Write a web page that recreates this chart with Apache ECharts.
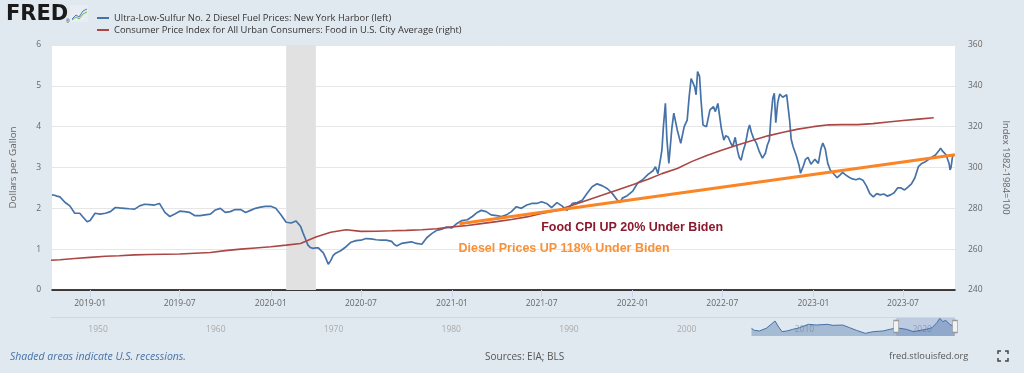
<!DOCTYPE html>
<html><head><meta charset="utf-8">
<script src="https://cdn.jsdelivr.net/npm/echarts@6/dist/echarts.min.js"></script>
<style>html,body{margin:0;padding:0;background:#e1e9f0;}#c{width:1024px;height:373px;}</style>
</head><body><div id="c"></div><script>
// ---------- DATA ----------
const dieselName = 'Ultra-Low-Sulfur No. 2 Diesel Fuel Prices: New York Harbor (left)';
const cpiName = 'Consumer Price Index for All Urban Consumers: Food in U.S. City Average (right)';

const dieselDates = [
'2018-10-16','2018-10-21','2018-10-26','2018-11-01','2018-11-11','2018-11-21','2018-12-01','2018-12-11','2018-12-21','2018-12-26',
'2019-01-01','2019-01-11','2019-01-21','2019-02-01','2019-02-11','2019-02-21','2019-03-01','2019-03-11','2019-03-21','2019-04-01',
'2019-04-11','2019-04-21','2019-05-01','2019-05-11','2019-05-21','2019-06-01','2019-06-11','2019-06-21','2019-07-01','2019-07-11',
'2019-07-21','2019-08-01','2019-08-11','2019-08-21','2019-09-01','2019-09-11','2019-09-21','2019-10-01','2019-10-11','2019-10-21',
'2019-11-01','2019-11-11','2019-11-21','2019-12-01','2019-12-11','2019-12-21','2020-01-01','2020-01-11','2020-01-21','2020-02-01',
'2020-02-11','2020-02-21','2020-03-01','2020-03-06','2020-03-11','2020-03-16','2020-03-21','2020-03-26','2020-04-01','2020-04-06',
'2020-04-11','2020-04-16','2020-04-21','2020-04-26','2020-05-01','2020-05-06','2020-05-11','2020-05-21','2020-06-01','2020-06-11',
'2020-06-21','2020-07-01','2020-07-11','2020-07-21','2020-08-01','2020-08-11','2020-08-21','2020-09-01','2020-09-06','2020-09-11',
'2020-09-21','2020-10-01','2020-10-11','2020-10-21','2020-11-01','2020-11-11','2020-11-21','2020-12-01','2020-12-11','2020-12-21',
'2021-01-01','2021-01-11','2021-01-21','2021-02-01','2021-02-11','2021-02-21','2021-03-01','2021-03-11','2021-03-21','2021-04-01',
'2021-04-11','2021-04-21','2021-05-01','2021-05-11','2021-05-21','2021-06-01','2021-06-11','2021-06-21','2021-07-01','2021-07-11',
'2021-07-21','2021-08-01','2021-08-11','2021-08-21','2021-09-01','2021-09-11','2021-09-21','2021-10-01','2021-10-11','2021-10-21',
'2021-11-01','2021-11-11','2021-11-21','2021-12-01','2021-12-06','2021-12-11','2021-12-21','2022-01-01','2022-01-11','2022-01-21',
'2022-02-01','2022-02-11','2022-02-16','2022-02-21','2022-02-26','2022-03-01','2022-03-04','2022-03-08','2022-03-11','2022-03-15',
'2022-03-21','2022-03-25','2022-04-01','2022-04-08','2022-04-15','2022-04-21','2022-04-25','2022-04-29','2022-05-06','2022-05-09',
'2022-05-12','2022-05-16','2022-05-19','2022-05-23','2022-05-30','2022-06-06','2022-06-13','2022-06-17','2022-06-22','2022-06-29',
'2022-07-04','2022-07-08','2022-07-13','2022-07-18','2022-07-22','2022-07-27','2022-08-01','2022-08-04','2022-08-08','2022-08-12',
'2022-08-17','2022-08-22','2022-08-25','2022-08-29','2022-09-02','2022-09-08','2022-09-14','2022-09-20','2022-09-26','2022-09-30',
'2022-10-04','2022-10-07','2022-10-11','2022-10-14','2022-10-17','2022-10-21','2022-10-25','2022-10-31','2022-11-04','2022-11-08',
'2022-11-11','2022-11-14','2022-11-17','2022-11-21','2022-11-28','2022-12-03','2022-12-06','2022-12-12','2022-12-16','2022-12-21',
'2022-12-27','2023-01-04','2023-01-11','2023-01-16','2023-01-20','2023-01-25','2023-01-30','2023-02-04','2023-02-10','2023-02-18',
'2023-02-24','2023-03-01','2023-03-07','2023-03-14','2023-03-21','2023-03-28','2023-04-04','2023-04-11','2023-04-18','2023-04-25',
'2023-05-02','2023-05-09','2023-05-16','2023-05-23','2023-05-30','2023-06-06','2023-06-13','2023-06-20','2023-06-27','2023-07-04',
'2023-07-11','2023-07-18','2023-07-25','2023-08-01','2023-08-08','2023-08-15','2023-08-22','2023-08-29','2023-09-05','2023-09-12',
'2023-09-15','2023-09-19','2023-09-26','2023-09-29','2023-10-02','2023-10-04','2023-10-06','2023-10-09','2023-10-12'
];
const dieselValues = [
2.33,2.32,2.30,2.28,2.15,2.06,1.88,1.88,1.74,1.67,
1.70,1.88,1.86,1.88,1.92,2.02,2.01,2.00,1.99,1.98,
2.06,2.10,2.09,2.08,2.12,1.90,1.80,1.86,1.93,1.92,
1.90,1.82,1.82,1.84,1.86,1.96,2.00,1.90,1.92,1.97,
1.97,1.90,1.95,2.00,2.03,2.05,2.05,2.00,1.85,1.66,
1.64,1.69,1.56,1.40,1.25,1.10,1.04,1.02,1.03,1.03,
0.97,0.91,0.78,0.63,0.72,0.85,0.90,0.96,1.06,1.17,
1.21,1.22,1.26,1.25,1.23,1.22,1.22,1.19,1.12,1.08,
1.14,1.16,1.18,1.14,1.12,1.28,1.38,1.46,1.49,1.54,
1.52,1.63,1.70,1.72,1.80,1.90,1.95,1.92,1.84,1.82,
1.80,1.84,1.92,2.04,2.00,2.08,2.12,2.12,2.16,2.12,
2.02,2.14,2.06,1.95,2.12,2.14,2.20,2.37,2.53,2.60,
2.55,2.48,2.36,2.20,2.14,2.25,2.31,2.42,2.62,2.70,
2.83,2.92,3.02,2.85,3.20,3.43,4.00,4.57,3.70,3.10,
3.95,4.33,3.92,3.59,4.00,4.16,4.73,5.18,4.98,4.78,
5.35,5.23,4.65,4.04,4.00,4.41,4.49,4.37,4.57,3.96,
3.67,3.78,3.74,3.60,3.51,3.74,3.40,3.25,3.18,3.40,
3.60,3.92,4.04,3.85,3.72,3.59,3.38,3.23,3.35,3.55,
3.67,4.20,4.70,4.82,4.10,4.60,4.80,4.72,4.73,4.78,
4.75,4.15,3.70,3.51,3.27,3.05,2.86,3.05,3.20,3.25,
3.08,3.20,3.10,3.45,3.60,3.45,3.10,2.94,2.86,2.75,
2.82,2.88,2.82,2.76,2.72,2.70,2.73,2.69,2.55,2.36,
2.28,2.36,2.33,2.35,2.30,2.33,2.38,2.50,2.50,2.45,
2.52,2.60,2.75,3.02,3.10,3.14,3.20,3.26,3.31,3.42,
3.47,3.40,3.31,3.31,3.10,2.94,3.00,3.27,3.31
];

const cpiDates = [
'2018-10-01','2018-11-01','2018-12-01',
'2019-01-01','2019-02-01','2019-03-01','2019-04-01','2019-05-01','2019-06-01','2019-07-01','2019-08-01','2019-09-01','2019-10-01','2019-11-01','2019-12-01',
'2020-01-01','2020-02-01','2020-03-01','2020-04-01','2020-05-01','2020-06-01','2020-07-01','2020-08-01','2020-09-01','2020-10-01','2020-11-01','2020-12-01',
'2021-01-01','2021-02-01','2021-03-01','2021-04-01','2021-05-01','2021-06-01','2021-07-01','2021-08-01','2021-09-01','2021-10-01','2021-11-01','2021-12-01',
'2022-01-01','2022-02-01','2022-03-01','2022-04-01','2022-05-01','2022-06-01','2022-07-01','2022-08-01','2022-09-01','2022-10-01','2022-11-01','2022-12-01',
'2023-01-01','2023-02-01','2023-03-01','2023-04-01','2023-05-01','2023-06-01','2023-07-01','2023-08-01','2023-09-01'
];
const cpiValues = [
254.4,254.8,255.4,
256.0,256.5,256.8,257.2,257.4,257.5,257.6,258.0,258.4,259.3,260.0,260.6,
261.2,262.0,262.8,266.0,268.3,269.5,268.7,268.8,269.0,269.2,269.5,270.0,
270.9,271.6,272.5,273.5,274.5,275.8,277.5,279.0,281.5,284.0,286.5,289.0,
291.5,294.3,297.0,299.5,303.0,306.0,308.6,311.0,313.3,315.5,317.3,318.8,
320.0,320.9,321.0,321.0,321.5,322.3,323.0,323.7,324.4
];

// hand-drawn trend line from the reference (left axis)
const trendDates = ['2021-01-16','2023-10-14'];
const trendValues = [1.62, 3.31];

// annotation texts anchored at [date, left-axis value]
const annotations = [
  {text:'Food CPI UP 20% Under Biden', date:'2021-06-29', value:1.54, color:'#8b1a2e'},
  {text:'Diesel Prices UP 118% Under Biden', date:'2021-01-13', value:1.02, color:'#f7913a'}
];

const recessions = [['2020-02-01','2020-04-01']];

const xMin = '2018-10-16', xMax = '2023-10-14';
const xTickDates = ['2019-01-01','2019-07-01','2020-01-01','2020-07-01','2021-01-01','2021-07-01','2022-01-01','2022-07-01','2023-01-01','2023-07-01'];
const leftTicks = {min:0, max:6, interval:1};
const rightTicks = {min:240, max:360, interval:20};

// navigator (full history overview)
const navMin = '1947-01-01';
const navTickDates = ['1950-01-01','1960-01-01','1970-01-01','1980-01-01','1990-01-01','2000-01-01','2010-01-01','2020-01-01'];
const navDates = ['2006-07-01','2006-10-01','2007-03-01','2007-10-01','2008-03-01','2008-07-01','2008-10-01','2009-02-01','2009-07-01','2010-01-01',
'2010-08-01','2011-05-01','2012-01-01','2012-12-01','2013-06-01','2014-04-01','2014-11-01','2015-06-01','2016-03-01','2016-11-01',
'2017-09-01','2018-04-01','2018-09-01','2019-02-01','2019-09-01','2020-04-01','2020-11-01','2021-05-01','2021-11-01','2022-04-01',
'2022-07-01','2022-10-01','2023-01-01','2023-05-01','2023-10-01'];
const navValues = [2.52,1.99,1.82,2.52,3.57,4.45,3.13,1.64,1.82,2.25,
2.69,3.57,3.39,3.57,3.31,3.39,2.69,1.99,1.20,1.64,
1.82,2.25,2.52,2.52,2.25,1.64,1.99,2.25,2.69,4.01,
5.15,4.27,4.62,3.57,2.87];

// ---------- CHART ----------
const FONT = '"Open Sans", sans-serif';
const P = s => echarts.time.parse(s).getTime();
const chart = echarts.init(document.getElementById('c'), null, {renderer:'canvas'});
const zip = (a,b) => a.map((d,i)=>[P(d), b[i]]);
const yearFmt = v => echarts.time.format(v, '{yyyy}', false);
const monthFmt = v => echarts.time.format(v, '{yyyy}-{MM}', false);

const option = {
  backgroundColor:'#e1e9f0',
  animation:false,
  textStyle:{fontFamily:FONT},
  legend:{
    data:[dieselName, cpiName], orient:'vertical', left:92, top:7, itemWidth:12, itemHeight:2, itemGap:0,
    icon:'rect', selectedMode:false,
    textStyle:{fontSize:9.4, color:'#333', lineHeight:12, fontFamily:FONT}
  },
  grid:[
    {left:51, right:69, top:45, bottom:83, show:true, backgroundColor:'#ffffff', borderWidth:0},
    {left:51, right:69, top:317, height:19, show:false}
  ],
  xAxis:[
    {type:'value', gridIndex:0, min:P(xMin), max:P(xMax),
     axisLine:{onZero:false, lineStyle:{color:'#000', width:1.5}},
     axisTick:{show:true, customValues:xTickDates.map(P), length:7, lineStyle:{color:'#ccd6eb'}},
     axisLabel:{customValues:xTickDates.map(P), formatter:monthFmt, color:'#666', fontSize:8.5, margin:9, fontFamily:FONT},
     splitLine:{show:false}},
    {type:'value', gridIndex:1, min:P(navMin), max:P(xMax),
     axisLine:{show:false}, axisTick:{show:false}, splitLine:{show:false},
     axisLabel:{customValues:navTickDates.map(P), formatter:yearFmt, inside:true, align:'left', padding:[0,0,0,2], margin:2, color:'#aaaaaa', fontSize:8.5, fontFamily:FONT}}
  ],
  yAxis:[
    {type:'value', gridIndex:0, position:'left', min:leftTicks.min, max:leftTicks.max, interval:leftTicks.interval,
     name:'Dollars per Gallon', nameLocation:'middle', nameGap:34, nameRotate:90,
     nameTextStyle:{color:'#666', fontSize:9.8, fontFamily:FONT},
     axisLine:{show:false}, axisTick:{show:false},
     axisLabel:{color:'#666', fontSize:8.5, margin:11, fontFamily:FONT},
     splitLine:{lineStyle:{color:'#e6e6e6'}}},
    {type:'value', gridIndex:0, position:'right', min:rightTicks.min, max:rightTicks.max, interval:rightTicks.interval,
     name:'Index 1982-1984=100', nameLocation:'middle', nameGap:46, nameRotate:-90,
     nameTextStyle:{color:'#666', fontSize:9.4, fontFamily:FONT},
     axisLine:{show:false}, axisTick:{show:false},
     axisLabel:{color:'#666', fontSize:8.5, margin:13, fontFamily:FONT},
     splitLine:{show:false}},
    {type:'value', gridIndex:1, min:0.5, max:5.5, show:false}
  ],
  series:[
    {name:'recessions', type:'line', xAxisIndex:0, yAxisIndex:0, data:[], z:1, silent:true,
     markArea:{silent:true, itemStyle:{color:'#e1e1e1'},
       data:recessions.map(r=>[{xAxis:P(r[0])},{xAxis:P(r[1])}])}},
    {name:dieselName, type:'line', xAxisIndex:0, yAxisIndex:0, data:zip(dieselDates, dieselValues),
     showSymbol:false, color:'#4572a7', lineStyle:{width:1.7, color:'#4572a7'}, z:3},
    {name:cpiName, type:'line', xAxisIndex:0, yAxisIndex:1, data:zip(cpiDates, cpiValues),
     showSymbol:false, color:'#aa4643', lineStyle:{width:1.6, color:'#aa4643'}, z:3},
    {name:'trend', type:'line', xAxisIndex:0, yAxisIndex:0, data:zip(trendDates, trendValues),
     showSymbol:false, lineStyle:{width:3, color:'#fb8424'}, z:4, silent:true,
     markPoint:{silent:true, symbol:'circle', symbolSize:1, itemStyle:{color:'rgba(0,0,0,0)'},
       data:annotations.map(a=>({coord:[P(a.date), a.value],
         label:{show:true, position:'right', distance:0, formatter:a.text, color:a.color,
                fontSize:12.5, fontWeight:'bold', fontFamily:'"Liberation Sans", Arial, sans-serif'}}))}},
    {name:'navigator', type:'line', xAxisIndex:1, yAxisIndex:2, data:zip(navDates, navValues),
     showSymbol:false, lineStyle:{width:1, color:'#4572a7'}, areaStyle:{color:'rgba(69,114,167,0.55)'}, z:2, silent:true,
     markArea:{silent:true, itemStyle:{color:'rgba(102,133,194,0.3)'}, data:[[{xAxis:P(xMin)},{xAxis:P(xMax)}]]},
     markLine:{silent:true, symbol:'none', label:{show:false}, lineStyle:{color:'#ccd6eb', type:'solid', width:1},
       data:[{yAxis:5.5}]},
     markPoint:{silent:true, symbol:'rect', symbolSize:[5,12],
       itemStyle:{color:'#f2f2f2', borderColor:'#999', borderWidth:1}, label:{show:false},
       data:[{coord:[P(xMin),3.0]},{coord:[P(xMax),3.0]}]}}
  ],
  graphic:[
    {type:'text', left:6, top:4, style:{text:'FRED', fontSize:21, fontWeight:'bold', fill:'#1a1a1a', fontFamily:'"DejaVu Sans", sans-serif'}},
    {type:'text', left:66, top:19, style:{text:'®', fontSize:5, fill:'#333'}},
    {type:'rect', left:70, top:5, shape:{width:18, height:17}, style:{fill:'#e9edf1'}},
    {type:'polyline', shape:{points:[[72,19],[76,15],[79,17],[83,11],[87,9]]}, style:{stroke:'#4a7ab5', lineWidth:1, fill:null}},
    {type:'polyline', shape:{points:[[72,20],[76,17],[79,19],[83,14],[87,12]]}, style:{stroke:'#6bb34a', lineWidth:1, fill:null}},
    {type:'text', left:10, top:352, style:{text:'Shaded areas indicate U.S. recessions.', fontSize:10.5, fontStyle:'italic', fill:'#4572a7', fontFamily:FONT}},
    {type:'text', left:485, top:352, style:{text:'Sources: EIA; BLS', fontSize:10, fill:'#555', fontFamily:FONT}},
    {type:'text', left:889, top:352, style:{text:'fred.stlouisfed.org', fontSize:9.3, fill:'#555', fontFamily:FONT}},
    {type:'polyline', shape:{points:[[998,354],[998,351],[1001,351]]}, style:{stroke:'#444', lineWidth:1.5, fill:null}},
    {type:'polyline', shape:{points:[[1005,351],[1008,351],[1008,354]]}, style:{stroke:'#444', lineWidth:1.5, fill:null}},
    {type:'polyline', shape:{points:[[998,358],[998,361],[1001,361]]}, style:{stroke:'#444', lineWidth:1.5, fill:null}},
    {type:'polyline', shape:{points:[[1005,361],[1008,361],[1008,358]]}, style:{stroke:'#444', lineWidth:1.5, fill:null}}
  ]
};
chart.setOption(option);
</script></body></html>
